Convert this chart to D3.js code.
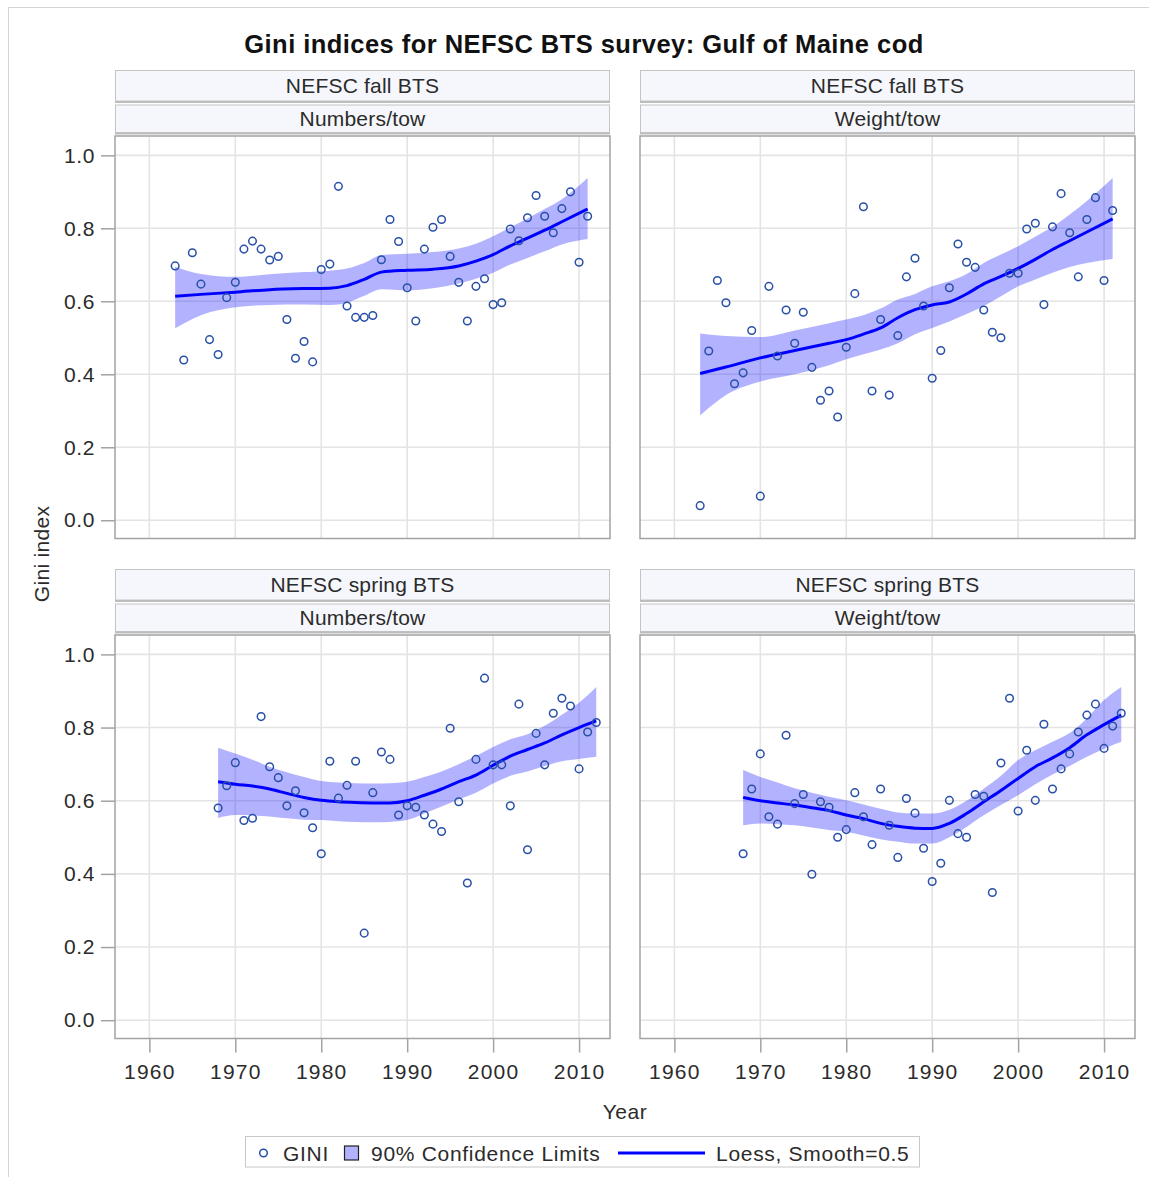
<!DOCTYPE html>
<html>
<head>
<meta charset="utf-8">
<script src="https://cdn.jsdelivr.net/npm/d3@7"></script>
<style>
  html, body { margin: 0; padding: 0; background: #fff; }
  svg { display: block; }
  text { font-family: "Liberation Sans", Arial, sans-serif; fill: #2b2b2b; }
</style>
</head>
<body>
<svg id="chart" width="1149" height="1177"></svg>
<script>
// ---------------- DATA ----------------
const title = "Gini indices for NEFSC BTS survey: Gulf of Maine cod";
const surveyLabels = ["NEFSC fall BTS", "NEFSC fall BTS", "NEFSC spring BTS", "NEFSC spring BTS"];
const unitLabels = ["Numbers/tow", "Weight/tow", "Numbers/tow", "Weight/tow"];
const xTicks = [1960, 1970, 1980, 1990, 2000, 2010];
const yTicks = [0.0, 0.2, 0.4, 0.6, 0.8, 1.0];

// Panel A: fall, numbers/tow
const yearsA = d3.range(1963, 2012);
const giniA = [0.697,0.439,0.733,0.647,0.495,0.454,0.610,0.652,0.743,0.765,0.743,0.713,0.723,0.550,0.444,0.490,0.434,
  0.687,0.702,0.915,0.587,0.556,0.556,0.561,0.714,0.824,0.764,0.637,0.546,0.743,0.803,0.824,0.723,0.652,0.546,0.641,0.662,
  0.591,0.596,0.798,0.766,0.829,0.890,0.833,0.788,0.854,0.900,0.707,0.833];
const loessYearsA = [1963,1966,1970,1974,1978,1981,1983,1985,1987,1990,1993,1996,1998,2000,2002,2004,2006,2008,2011];
const fitA   = [0.614,0.619,0.625,0.632,0.635,0.636,0.643,0.660,0.680,0.685,0.688,0.697,0.710,0.728,0.752,0.773,0.795,0.818,0.853];
const upperA = [0.695,0.675,0.667,0.674,0.680,0.684,0.690,0.705,0.727,0.730,0.735,0.745,0.758,0.778,0.803,0.827,0.853,0.880,0.938];
const lowerA = [0.526,0.562,0.584,0.590,0.591,0.590,0.596,0.615,0.633,0.630,0.636,0.649,0.662,0.678,0.701,0.719,0.737,0.756,0.771];

// Panel B: fall, weight/tow
const yearsB = d3.range(1963, 2012);
const giniB = [0.040,0.464,0.657,0.596,0.374,0.404,0.520,0.066,0.641,0.450,0.576,0.485,0.570,0.419,0.329,0.354,0.283,
  0.474,0.621,0.859,0.354,0.550,0.343,0.506,0.667,0.718,0.587,0.389,0.465,0.637,0.757,0.707,0.693,0.576,0.515,0.500,0.677,
  0.677,0.798,0.814,0.591,0.804,0.895,0.788,0.667,0.824,0.884,0.657,0.849];
const loessYearsB = [1963,1966,1970,1974,1978,1980,1982,1984,1986,1988,1990,1992,1994,1996,1998,2000,2002,2004,2006,2008,2011];
const fitB   = [0.402,0.420,0.445,0.465,0.485,0.495,0.510,0.527,0.555,0.577,0.590,0.598,0.620,0.648,0.668,0.690,0.715,0.742,0.766,0.790,0.826];
const upperB = [0.512,0.505,0.502,0.520,0.540,0.550,0.562,0.580,0.605,0.620,0.641,0.655,0.675,0.705,0.728,0.751,0.777,0.804,0.838,0.875,0.938];
const lowerB = [0.287,0.343,0.380,0.400,0.425,0.441,0.455,0.468,0.485,0.510,0.527,0.545,0.565,0.587,0.614,0.641,0.660,0.678,0.694,0.705,0.716];

// Panel C: spring, numbers/tow
const yearsC = d3.range(1968, 2013);
const giniC = [0.580,0.641,0.704,0.546,0.552,0.830,0.693,0.663,0.586,0.627,0.567,0.526,0.455,0.708,0.607,0.642,0.708,
  0.238,0.622,0.733,0.713,0.561,0.586,0.582,0.561,0.536,0.516,0.798,0.597,0.375,0.713,0.935,0.698,0.698,0.586,0.864,0.466,
  0.784,0.698,0.839,0.880,0.859,0.687,0.788,0.814];
const loessYearsC = [1968,1970,1972,1974,1976,1978,1980,1982,1984,1986,1988,1990,1992,1994,1996,1998,2000,2002,2004,2006,2008,2010,2012];
const fitC   = [0.652,0.645,0.640,0.632,0.620,0.609,0.601,0.597,0.595,0.594,0.594,0.600,0.615,0.632,0.652,0.670,0.697,0.722,0.740,0.758,0.780,0.800,0.818];
const upperC = [0.745,0.729,0.712,0.693,0.678,0.665,0.654,0.650,0.648,0.647,0.648,0.652,0.665,0.680,0.700,0.722,0.747,0.768,0.782,0.805,0.835,0.868,0.911];
const lowerC = [0.553,0.561,0.560,0.557,0.552,0.548,0.547,0.544,0.542,0.541,0.542,0.547,0.565,0.584,0.604,0.622,0.647,0.668,0.680,0.695,0.708,0.714,0.720];

// Panel D: spring, weight/tow
const yearsD = d3.range(1968, 2013);
const giniD = [0.455,0.632,0.728,0.556,0.536,0.779,0.592,0.617,0.399,0.597,0.582,0.500,0.521,0.622,0.556,0.480,0.632,
  0.533,0.445,0.606,0.566,0.470,0.379,0.429,0.601,0.510,0.500,0.617,0.612,0.349,0.703,0.880,0.572,0.738,0.601,0.809,0.632,
  0.687,0.728,0.788,0.834,0.864,0.743,0.804,0.839];
const loessYearsD = [1968,1970,1972,1974,1976,1978,1980,1982,1984,1986,1988,1990,1992,1994,1996,1998,2000,2002,2004,2006,2008,2010,2012];
const fitD   = [0.609,0.600,0.594,0.588,0.581,0.573,0.561,0.551,0.538,0.530,0.525,0.524,0.538,0.565,0.597,0.628,0.661,0.693,0.717,0.745,0.780,0.808,0.834];
const upperD = [0.684,0.665,0.650,0.634,0.622,0.611,0.601,0.590,0.578,0.568,0.565,0.565,0.575,0.600,0.633,0.668,0.711,0.738,0.761,0.785,0.825,0.875,0.911];
const lowerD = [0.533,0.538,0.536,0.533,0.527,0.520,0.515,0.505,0.495,0.488,0.483,0.483,0.500,0.528,0.560,0.588,0.615,0.645,0.672,0.695,0.720,0.742,0.761];

const legendLabels = ["GINI", "90% Confidence Limits", "Loess, Smooth=0.5"];

// ---------------- LAYOUT ----------------
const svg = d3.select("#chart");
const FONT = 21;
const markerColor = "#2850a8";
const lineColor = "#0000ff";
const bandColor = "rgba(0,0,255,0.3)";
const gridColor = "#e4e4e4";
const frameColor = "#a3a3a3";

const colX = [[115, 610], [640, 1135]];
const rowY = [[136, 538.5], [635, 1038.5]];
const stripTop = [70, 569];

const panels = [
  {years: yearsA, gini: giniA, ly: loessYearsA, fit: fitA, up: upperA, lo: lowerA, c: 0, r: 0},
  {years: yearsB, gini: giniB, ly: loessYearsB, fit: fitB, up: upperB, lo: lowerB, c: 1, r: 0},
  {years: yearsC, gini: giniC, ly: loessYearsC, fit: fitC, up: upperC, lo: lowerC, c: 0, r: 1},
  {years: yearsD, gini: giniD, ly: loessYearsD, fit: fitD, up: upperD, lo: lowerD, c: 1, r: 1}
];

// outer border
svg.append("rect").attr("x", 8.5).attr("y", 7.5).attr("width", 1160).attr("height", 1190)
  .attr("fill", "none").attr("stroke", "#d4d4d4").attr("stroke-width", 1);

// title
svg.append("text").attr("x", 584).attr("y", 53).attr("text-anchor", "middle")
  .style("font-size", "25.5px").style("font-weight", "bold").style("letter-spacing", "0.45px")
  .style("fill", "#111").text(title);

panels.forEach((p, i) => {
  const [x0, x1] = colX[p.c];
  const [y0, y1] = rowY[p.r];
  const x = d3.scaleLinear().domain([1956, 2013.6]).range([x0, x1]);
  const y = d3.scaleLinear().domain([-0.05, 1.053]).range([y1, y0]);
  const g = svg.append("g");

  // strips
  const st = stripTop[p.r];
  [[st, st + 31.5, surveyLabels[i]], [st + 34.5, st + 63, unitLabels[i]]].forEach(([a, b, lab]) => {
    g.append("rect").attr("x", x0 + 0.5).attr("y", a + 0.5).attr("width", x1 - x0 - 1).attr("height", b - a - 1)
      .attr("fill", "#f6f7fc").attr("stroke", "#c4c4c4").attr("stroke-width", 1);
    g.append("line").attr("x1", x0).attr("x2", x1).attr("y1", b + 0.5).attr("y2", b + 0.5)
      .attr("stroke", "#bdbdbd").attr("stroke-width", 2);
    g.append("text").attr("x", (x0 + x1) / 2).attr("y", (a + b) / 2 + 7.5).attr("text-anchor", "middle")
      .style("font-size", FONT + "px").style("letter-spacing", "0.2px").text(lab);
  });

  // gridlines
  g.append("g").selectAll("line").data(xTicks).join("line")
    .attr("x1", d => x(d)).attr("x2", d => x(d)).attr("y1", y0).attr("y2", y1)
    .attr("stroke", gridColor).attr("stroke-width", 1.6);
  g.append("g").selectAll("line").data(yTicks).join("line")
    .attr("x1", x0).attr("x2", x1).attr("y1", d => y(d)).attr("y2", d => y(d))
    .attr("stroke", gridColor).attr("stroke-width", 1.6);

  // band
  const bandData = p.ly.map((yr, k) => ({yr, lo: p.lo[k], up: p.up[k], fit: p.fit[k]}));
  g.append("path").datum(bandData)
    .attr("d", d3.area().x(d => x(d.yr)).y0(d => y(d.lo)).y1(d => y(d.up)).curve(d3.curveMonotoneX))
    .attr("fill", bandColor).attr("stroke", "none");
  g.append("path").datum(bandData)
    .attr("d", d3.line().x(d => x(d.yr)).y(d => y(d.fit)).curve(d3.curveMonotoneX))
    .attr("fill", "none").attr("stroke", lineColor).attr("stroke-width", 3);

  // points
  g.append("g").selectAll("circle").data(p.years.map((yr, k) => ({yr, v: p.gini[k]}))).join("circle")
    .attr("cx", d => x(d.yr)).attr("cy", d => y(d.v)).attr("r", 3.8)
    .attr("fill", "none").attr("stroke", markerColor).attr("stroke-width", 1.5);

  // frame
  g.append("rect").attr("x", x0).attr("y", y0).attr("width", x1 - x0).attr("height", y1 - y0)
    .attr("fill", "none").attr("stroke", frameColor).attr("stroke-width", 1.5);

  // y axis (left column only)
  if (p.c === 0) {
    const ya = g.append("g").attr("transform", `translate(${x0},0)`)
      .call(d3.axisLeft(y).tickValues(yTicks).tickFormat(d3.format(".1f")).tickSize(14).tickPadding(6));
    ya.select(".domain").remove();
    ya.selectAll(".tick line").attr("stroke", frameColor).attr("stroke-width", 1.5);
    ya.selectAll(".tick text").style("font-size", FONT + "px").style("letter-spacing", "0.6px")
      .attr("fill", "#2b2b2b").attr("font-family", null);
  }
  // x axis (bottom row only)
  if (p.r === 1) {
    const xa = g.append("g").attr("transform", `translate(0,${y1})`)
      .call(d3.axisBottom(x).tickValues(xTicks).tickFormat(d3.format("d")).tickSize(14).tickPadding(12));
    xa.select(".domain").remove();
    xa.selectAll(".tick line").attr("stroke", frameColor).attr("stroke-width", 1.5);
    xa.selectAll(".tick text").style("font-size", FONT + "px").style("letter-spacing", "1.2px")
      .attr("fill", "#2b2b2b").attr("font-family", null);
  }
});

// axis titles
svg.append("text").attr("transform", "translate(49,554) rotate(-90)").attr("text-anchor", "middle")
  .style("font-size", FONT + "px").style("letter-spacing", "0.3px").text("Gini index");
svg.append("text").attr("x", 625).attr("y", 1119).attr("text-anchor", "middle")
  .style("font-size", FONT + "px").style("letter-spacing", "0.5px").text("Year");

// legend
const lg = svg.append("g");
lg.append("rect").attr("x", 245.5).attr("y", 1136.5).attr("width", 674).attr("height", 30.5)
  .attr("fill", "#fff").attr("stroke", "#c8c8c8");
lg.append("circle").attr("cx", 263.5).attr("cy", 1153).attr("r", 3.8)
  .attr("fill", "none").attr("stroke", markerColor).attr("stroke-width", 1.5);
lg.append("text").attr("x", 283).attr("y", 1160.5).style("font-size", FONT + "px").style("letter-spacing", "0.7px").text(legendLabels[0]);
lg.append("rect").attr("x", 344.5).attr("y", 1146).attr("width", 14).attr("height", 14)
  .attr("fill", bandColor).attr("stroke", "#222").attr("stroke-width", 1.2);
lg.append("text").attr("x", 371).attr("y", 1160.5).style("font-size", FONT + "px").style("letter-spacing", "0.7px").text(legendLabels[1]);
lg.append("line").attr("x1", 618).attr("x2", 705).attr("y1", 1153).attr("y2", 1153)
  .attr("stroke", lineColor).attr("stroke-width", 3);
lg.append("text").attr("x", 716).attr("y", 1160.5).style("font-size", FONT + "px").style("letter-spacing", "0.7px").text(legendLabels[2]);
</script>
</body>
</html>
